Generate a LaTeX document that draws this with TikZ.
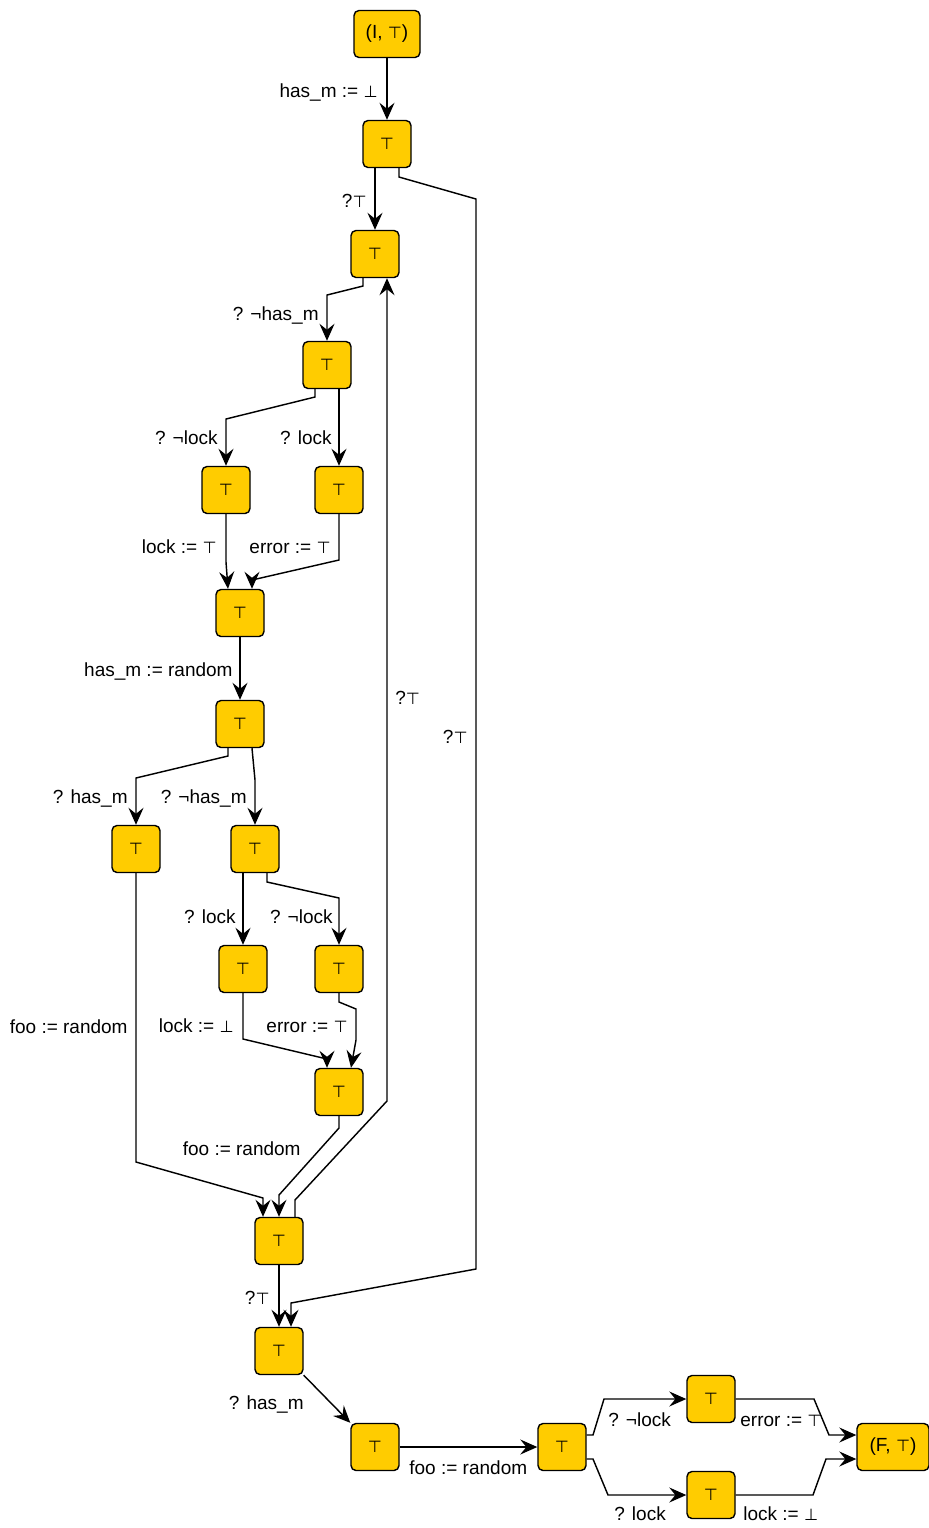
\documentclass[tikz,border=0pt]{standalone}
\usepackage{fontspec}
\setmainfont{Liberation Sans}
\newfontfamily\symfont{DejaVu Sans}[Scale=0.85]
\newcommand{\Ttop}{{\symfont ⊤}}
\newcommand{\Tbot}{{\symfont ⊥}}
\usetikzlibrary{arrows.meta}
\definecolor{statefill}{HTML}{FFCC00}
\tikzset{
  st/.style={rectangle, rounded corners=2.5pt, draw=black, line width=0.7pt,
    fill=statefill, minimum width=24pt, minimum height=23.5pt, inner sep=0pt},
  arr/.style={draw, line width=0.72pt, -{Stealth[length=8.5pt,width=7.5pt,inset=3pt]}},
  lr/.style={anchor=base east, inner sep=0pt},
  ll/.style={anchor=base west, inner sep=0pt}
}
\begin{document}
\begin{tikzpicture}[x=0.5pt, y=-0.5pt, font=\fontsize{9.5}{11}\selectfont]
\useasboundingbox (0,0) rectangle (929,1528);

% states
\node[st, minimum width=33pt] (n0) at (387,34) {(I, \Ttop)};
\node[st] (n1) at (387,144) {\Ttop};
\node[st] (n2) at (375,254) {\Ttop};
\node[st] (n3) at (327,365) {\Ttop};
\node[st] (n4) at (226,490) {\Ttop};
\node[st] (n5) at (339,490) {\Ttop};
\node[st] (n6) at (240,613) {\Ttop};
\node[st] (n7) at (240,724) {\Ttop};
\node[st] (n8) at (136,849) {\Ttop};
\node[st] (n9) at (255,849) {\Ttop};
\node[st] (n10) at (243,969) {\Ttop};
\node[st] (n11) at (339,969) {\Ttop};
\node[st] (n12) at (339,1092) {\Ttop};
\node[st] (n13) at (279,1241) {\Ttop};
\node[st] (n14) at (279,1351) {\Ttop};
\node[st] (n15) at (375,1447) {\Ttop};
\node[st] (n16) at (562,1447) {\Ttop};
\node[st] (n17) at (711,1399) {\Ttop};
\node[st] (n18) at (711,1495) {\Ttop};
\node[st, minimum width=36pt] (n19) at (893,1447) {(F, \Ttop)};

% transitions
\draw[arr] (n0) -- (n1);
\draw[arr] ([xshift=-6pt]n1.south) -- (n2.north);
\draw[arr] ([xshift=6pt]n1.south) -- (399,177) -- (476,199) -- (476,1269) -- (291,1303) -- ([xshift=6pt]n14.north);
\draw[arr] ([xshift=-6pt]n2.south) -- (363,286) -- (327,295) -- (n3.north);
\draw[arr] ([xshift=-6pt]n3.south) -- (315,397) -- (226,419) -- (n4.north);
\draw[arr] ([xshift=6pt]n3.south) -- (n5.north);
\draw[arr] (n4.south) -- (226,562) -- ([xshift=-6pt]n6.north);
\draw[arr] (n5.south) -- (339,560) -- (252,580) -- ([xshift=6pt]n6.north);
\draw[arr] (n6) -- (n7);
\draw[arr] ([xshift=-6pt]n7.south) -- (228,756) -- (136,778) -- (n8.north);
\draw[arr] ([xshift=6pt]n7.south) -- (255,780) -- (n9.north);
\draw[arr] ([xshift=-6pt]n9.south) -- (n10.north);
\draw[arr] ([xshift=6pt]n9.south) -- (267,882) -- (339,898) -- (n11.north);
\draw[arr] (n10.south) -- (243,1039) -- (327,1059) -- ([xshift=-6pt]n12.north);
\draw[arr] (n11.south) -- (339,1002) -- (356,1009) -- (356,1040) -- ([xshift=6pt]n12.north);
\draw[arr] (n8.south) -- (136,1162) -- (263,1198) -- ([xshift=-8pt]n13.north);
\draw[arr] (n12.south) -- (339,1128) -- (279,1195) -- (n13.north);
\draw[arr] ([xshift=8pt]n13.north) -- (295,1200) -- (387,1101) -- ([xshift=6pt]n2.south);
\draw[arr] (n13) -- (n14);
\draw[arr] (n14.south east) -- (n15.north west);
\draw[arr] (n15) -- (n16);
\draw[arr] ([yshift=6pt]n16.east) -- (593,1435) -- (604,1399) -- (n17.west);
\draw[arr] ([yshift=-6pt]n16.east) -- (593,1459) -- (608,1495) -- (n18.west);
\draw[arr] (n17.east) -- (814,1399) -- (829,1435) -- ([yshift=6pt]n19.west);
\draw[arr] (n18.east) -- (813,1495) -- (826,1459) -- ([yshift=-6pt]n19.west);

% transition labels
\node[lr] (l01) at (378,97) {has\_m := \Tbot};
\node[lr] (l12) at (367,207) {?\Ttop};
\node[lr] (l23) at (319,320) {? ¬has\_m};
\node[lr] (l34) at (218,444) {? ¬lock};
\node[lr] (l35) at (332,444) {? lock};
\node[lr] (l46) at (217,553) {lock := \Ttop};
\node[lr] (l56) at (331,553) {error := \Ttop};
\node[lr] (l67) at (233,676) {has\_m := random};
\node[lr] (l78) at (128,803) {? has\_m};
\node[lr] (l79) at (247,803) {? ¬has\_m};
\node[lr] (l910) at (236,923) {? lock};
\node[lr] (l911) at (333,923) {? ¬lock};
\node[lr] (l813) at (128,1033) {foo := random};
\node[lr] (l1012) at (234,1032) {lock := \Tbot};
\node[lr] (l1112) at (348,1032) {error := \Ttop};
\node[lr] (l1213) at (301,1155) {foo := random};
\node[ll] (l132) at (395,704) {?\Ttop};
\node[lr] (l114) at (468,743) {?\Ttop};
\node[lr] (l1314) at (270,1304) {?\Ttop};
\node[lr] (l1415) at (304,1409) {? has\_m};
\node[ll] (l1516) at (409,1474) {foo := random};
\node[ll] (l1617) at (608,1426) {? ¬lock};
\node[ll] (l1719) at (740,1426) {error := \Ttop};
\node[ll] (l1618) at (614,1520) {? lock};
\node[ll] (l1819) at (743,1520) {lock := \Tbot};
\end{tikzpicture}
\end{document}
